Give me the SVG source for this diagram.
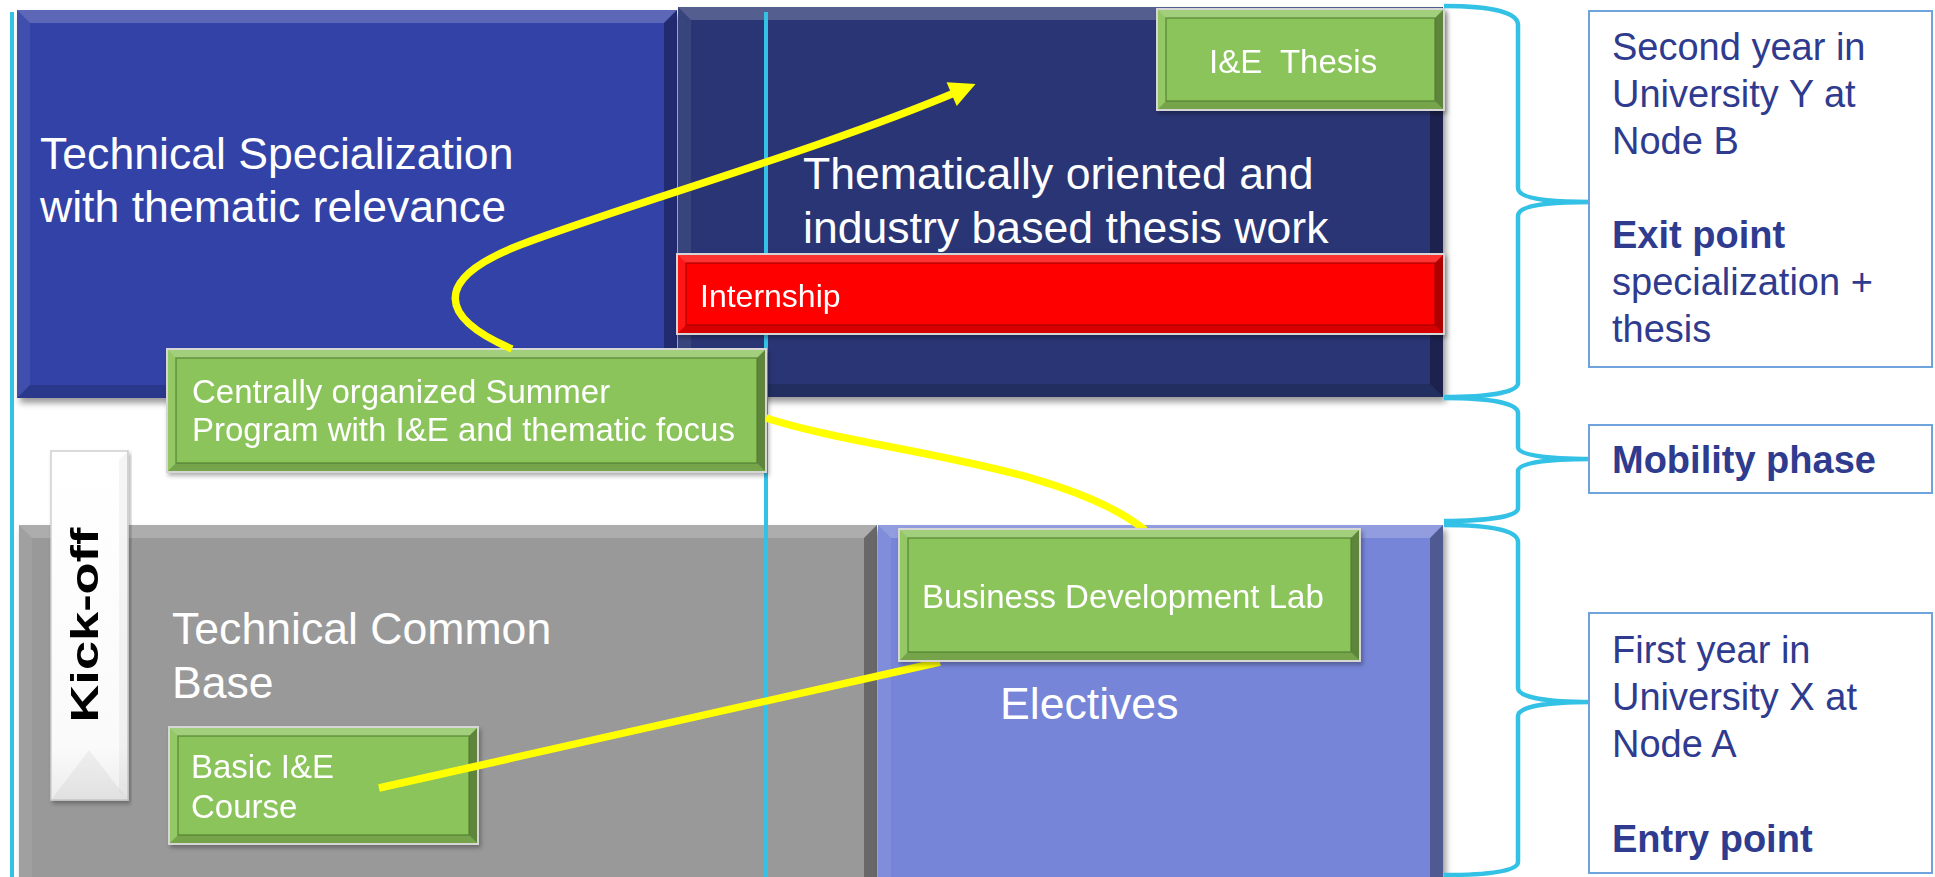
<svg xmlns="http://www.w3.org/2000/svg" width="1935" height="877" viewBox="0 0 1935 877">
<style>
.t{font-family:"Liberation Sans",Arial,sans-serif;fill:#fff}
.big{font-size:44.6px}
.sm{font-size:33px}
.r{font-family:"Liberation Sans",Arial,sans-serif;font-size:38px;fill:#2E3B8E}
.b{font-weight:bold}
.bt{fill:#fff;opacity:.2}
.bl{fill:#fff;opacity:.07}
.bb{fill:#000;opacity:.16}
.br{fill:#000;opacity:.32}
.gin{fill:none;stroke:#4f7a30;stroke-width:1.5;opacity:.7}
.gout{fill:none;stroke:#d6d6d6;stroke-width:2}
.cy{stroke:#33C1E5;stroke-width:4;fill:none}
.brace{stroke:#33C1E5;stroke-width:4.5;fill:none;stroke-linejoin:round}
.rbox{fill:#fff;stroke:#6FA3DC;stroke-width:2}
.yl{stroke:#FFFF00;stroke-width:7.5;fill:none}
</style>
<defs>
<filter id="sh" x="-5%" y="-5%" width="115%" height="120%">
<feDropShadow dx="3" dy="5" stdDeviation="3" flood-color="#000" flood-opacity="0.4"/>
</filter>
<filter id="lsh" x="-5%" y="-10%" width="110%" height="120%">
<feDropShadow dx="2" dy="3" stdDeviation="2" flood-color="#000" flood-opacity="0.3"/>
</filter>
<linearGradient id="kg" x1="0" y1="0" x2="0" y2="1">
<stop offset="0" stop-color="#ffffff"/>
<stop offset="0.85" stop-color="#fafafa"/>
<stop offset="1" stop-color="#ececec"/>
</linearGradient>
<marker id="ah" markerUnits="userSpaceOnUse" markerWidth="30" markerHeight="30" viewBox="0 -15 28 30" refX="8" refY="0" orient="auto">
<path d="M0,-13 L26,0 L0,13 z" fill="#FFFF00"/>
</marker>
</defs>

<g id="tech-spec" filter="url(#sh)">
<rect x="17" y="10" width="660" height="388" fill="#3342A6"/>
<polygon class="bt" points="17,10 677,10 664,23 30,23"/>
<polygon class="bl" points="17,10 30,23 30,385 17,398"/>
<polygon class="bb" points="17,398 30,385 664,385 677,398"/>
<polygon class="br" points="677,10 677,398 664,385 664,23"/>
</g>
<text class="t big" x="40" y="169">Technical Specialization</text>
<text class="t big" x="40" y="222">with thematic relevance</text>

<g id="thesis-work" filter="url(#sh)">
<rect x="678" y="7" width="765" height="390" fill="#2B3674"/>
<polygon class="bt" points="678,7 1443,7 1430,20 691,20"/>
<polygon class="bl" points="678,7 691,20 691,384 678,397"/>
<polygon class="bb" points="678,397 691,384 1430,384 1443,397"/>
<polygon class="br" points="1443,7 1443,397 1430,384 1430,20"/>
</g>
<text class="t big" x="803" y="189">Thematically oriented and</text>
<text class="t big" x="803" y="243">industry based thesis work</text>

<g id="common-base" filter="url(#sh)">
<rect x="19" y="525" width="858" height="360" fill="#999999"/>
<polygon class="bt" points="19,525 877,525 864,538 32,538"/>
<polygon class="bl" points="19,525 32,538 32,877 19,877"/>
<polygon class="br" points="877,525 877,877 864,877 864,538"/>
</g>
<text class="t big" x="172" y="644">Technical Common</text>
<text class="t big" x="172" y="698">Base</text>

<g id="electives" filter="url(#sh)">
<rect x="878" y="525" width="565" height="360" fill="#7685D8"/>
<polygon class="bt" points="878,525 1443,525 1430,538 891,538"/>
<polygon class="bl" points="878,525 891,538 891,877 878,877"/>
<polygon class="br" points="1443,525 1443,877 1430,877 1430,538"/>
</g>
<text class="t big" x="1000" y="719">Electives</text>

<g id="timeline-lines">
<line class="cy" x1="12" y1="12" x2="12" y2="877"/>
<line class="cy" x1="766" y1="12" x2="766" y2="877"/>
</g>

<g id="internship" filter="url(#lsh)">
<rect x="677" y="254" width="767" height="80" fill="#FF0000"/>
<polygon class="bt" points="677,254 1444,254 1435,263 686,263"/>
<polygon class="bl" points="677,254 686,263 686,325 677,334"/>
<polygon class="bb" points="677,334 686,325 1435,325 1444,334"/>
<polygon class="br" points="1444,254 1444,334 1435,325 1435,263"/>
<rect x="686" y="263" width="749" height="62" fill="none" stroke="#a00000" stroke-width="1.5" opacity=".7"/>
<rect class="gout" x="677" y="254" width="767" height="80"/>
<text class="t" x="700" y="307" font-size="32">Internship</text>
</g>

<g id="ie-thesis" filter="url(#lsh)">
<rect x="1157" y="9" width="287" height="101" fill="#8BC45A"/>
<polygon class="bt" points="1157,9 1444,9 1435,18 1166,18"/>
<polygon class="bl" points="1157,9 1166,18 1166,101 1157,110"/>
<polygon class="bb" points="1157,110 1166,101 1435,101 1444,110"/>
<polygon class="br" points="1444,9 1444,110 1435,101 1435,18"/>
<rect class="gin" x="1166" y="18" width="269" height="83"/>
<rect class="gout" x="1157" y="9" width="287" height="101"/>
<text class="t sm" x="1209" y="73" style="white-space:pre">I&amp;E  Thesis</text>
</g>

<g id="kick-off" filter="url(#lsh)">
<rect x="51" y="451" width="77" height="349" fill="url(#kg)" stroke="#cfcfcf" stroke-width="1.5"/>
<polygon points="128,451 128,800 119,791 119,460" fill="#000" opacity=".04"/>
<polygon points="51,800 89,750 128,800" fill="#000" opacity=".045"/>
<text class="b" transform="translate(98,625) rotate(-90)" text-anchor="middle" font-family="'Liberation Sans',Arial,sans-serif" font-size="38" fill="#000" textLength="195" lengthAdjust="spacingAndGlyphs">Kick-off</text>
</g>

<g id="summer-program" filter="url(#lsh)">
<rect x="167" y="349" width="599" height="123" fill="#8BC45A"/>
<polygon class="bt" points="167,349 766,349 757,358 176,358"/>
<polygon class="bl" points="167,349 176,358 176,463 167,472"/>
<polygon class="bb" points="167,472 176,463 757,463 766,472"/>
<polygon class="br" points="766,349 766,472 757,463 757,358"/>
<rect class="gin" x="176" y="358" width="581" height="105"/>
<rect class="gout" x="167" y="349" width="599" height="123"/>
<text class="t sm" x="192" y="403">Centrally organized Summer</text>
<text class="t sm" x="192" y="441">Program with I&amp;E and thematic focus</text>
</g>

<g id="basic-ie" filter="url(#lsh)">
<rect x="169" y="727" width="309" height="117" fill="#8BC45A"/>
<polygon class="bt" points="169,727 478,727 469,736 178,736"/>
<polygon class="bl" points="169,727 178,736 178,835 169,844"/>
<polygon class="bb" points="169,844 178,835 469,835 478,844"/>
<polygon class="br" points="478,727 478,844 469,835 469,736"/>
<rect class="gin" x="178" y="736" width="291" height="99"/>
<rect class="gout" x="169" y="727" width="309" height="117"/>
<text class="t sm" x="191" y="778">Basic I&amp;E</text>
<text class="t sm" x="191" y="818">Course</text>
</g>

<g id="connectors">
<path class="yl" d="M 512 349 C 440 318, 430 280, 520 245 S 820 150, 959 91" marker-end="url(#ah)"/>
<path class="yl" d="M 766 418 C 870 452, 1060 462, 1145 530"/>
<path class="yl" d="M 379 788 L 940 662"/>
</g>

<g id="business-lab" filter="url(#lsh)">
<rect x="899" y="529" width="461" height="132" fill="#8BC45A"/>
<polygon class="bt" points="899,529 1360,529 1351,538 908,538"/>
<polygon class="bl" points="899,529 908,538 908,652 899,661"/>
<polygon class="bb" points="899,661 908,652 1351,652 1360,661"/>
<polygon class="br" points="1360,529 1360,661 1351,652 1351,538"/>
<rect class="gin" x="908" y="538" width="443" height="114"/>
<rect class="gout" x="899" y="529" width="461" height="132"/>
<text class="t sm" x="922" y="608">Business Development Lab</text>
</g>

<g id="braces">
<path class="brace" d="M 1444 6 C 1490 6, 1518 12, 1518 25 L 1518 188 C 1518 198, 1545 202, 1591 202 C 1545 202, 1518 206, 1518 216 L 1518 383 C 1518 392, 1490 397, 1444 397"/>
<path class="brace" d="M 1444 398 C 1490 398, 1518 403, 1518 413 L 1518 447 C 1518 455, 1545 459, 1591 459 C 1545 459, 1518 463, 1518 471 L 1518 508 C 1518 516, 1490 521, 1444 521"/>
<path class="brace" d="M 1444 525 C 1490 525, 1518 530, 1518 542 L 1518 688 C 1518 697, 1545 702, 1591 702 C 1545 702, 1518 707, 1518 716 L 1518 862 C 1518 871, 1490 875, 1444 875"/>
</g>

<g id="second-year">
<rect class="rbox" x="1589" y="11" width="343" height="356"/>
<text class="r" x="1612" y="60">Second year in</text>
<text class="r" x="1612" y="107">University Y at</text>
<text class="r" x="1612" y="154">Node B</text>
<text class="r b" x="1612" y="248">Exit point</text>
<text class="r" x="1612" y="295">specialization +</text>
<text class="r" x="1612" y="342">thesis</text>
</g>

<g id="mobility">
<rect class="rbox" x="1589" y="425" width="343" height="68"/>
<text class="r b" x="1612" y="473">Mobility phase</text>
</g>

<g id="first-year">
<rect class="rbox" x="1589" y="613" width="343" height="260"/>
<text class="r" x="1612" y="663">First year in</text>
<text class="r" x="1612" y="710">University X at</text>
<text class="r" x="1612" y="757">Node A</text>
<text class="r b" x="1612" y="852">Entry point</text>
</g>
</svg>
